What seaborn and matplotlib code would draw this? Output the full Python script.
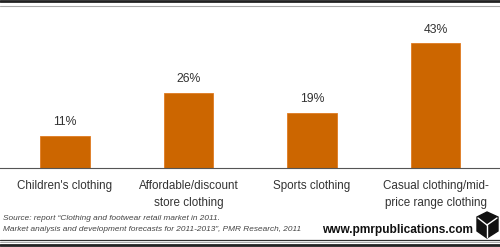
import matplotlib
matplotlib.use("Agg")
import matplotlib.pyplot as plt
import seaborn as sns
import pandas as pd
from matplotlib.lines import Line2D
from matplotlib.patches import Polygon

categories = ["Children's clothing", "Affordable/discount\nstore clothing",
              "Sports clothing", "Casual clothing/mid-\nprice range clothing"]
values = [11, 26, 19, 43]
value_labels = ["11%", "26%", "19%", "43%"]

sns.set_theme(style="white")
plt.rcParams['font.family'] = ['Liberation Sans', 'DejaVu Sans']

fig = plt.figure(figsize=(5.0, 2.47), dpi=100)
ax = fig.add_axes([0.0, 0.32, 1.0, 0.64])
df = pd.DataFrame({"cat": categories, "val": values})
sns.barplot(data=df, x="cat", y="val", color="#cc6600", width=0.4,
            saturation=1, edgecolor="#e07a20", linewidth=0.6, ax=ax)
ax.set_xlim(-0.526, 3.522)
ax.set_ylim(0, 54.5)
for s in ["top", "left", "right"]:
    ax.spines[s].set_visible(False)
ax.spines["bottom"].set_color("#555555")
ax.spines["bottom"].set_linewidth(0.8)
ax.set_yticks([])
ax.set_xlabel("")
ax.set_ylabel("")
ax.tick_params(axis="x", length=0, pad=9, labelsize=8.4, labelcolor="#333333")
ax.set_xticks(range(len(categories)))
ax.set_xticklabels(categories, linespacing=1.55)
for i, (v, lab) in enumerate(zip(values, value_labels)):
    ax.annotate(lab, (i, v), xytext=(0, 5.5), textcoords="offset points",
                ha="center", va="bottom", fontsize=8.8, color="#333333")

# source text
fig.text(3 / 500, 1 - 218 / 247, "Source: report \u201cClothing and footwear retail market in 2011.",
         fontsize=5.95, style="italic", color="#444444", va="center", ha="left")
fig.text(3 / 500, 1 - 229 / 247, "Market analysis and development forecasts for 2011-2013\u201d, PMR Research, 2011",
         fontsize=5.95, style="italic", color="#444444", va="center", ha="left")
fig.text(473 / 500, 1 - 230 / 247, "www.pmrpublications.com", fontsize=8.6,
         fontweight="bold", color="#111111", va="center", ha="right")

# logo (cube)
def P(x, y):
    return (x / 500, 1 - y / 247)
cube = Polygon([P(477, 217), P(487, 212), P(498, 217), P(498, 231), P(487, 238), P(477, 231)],
               closed=True, transform=fig.transFigure, color="#111111")
fig.patches.append(cube)
for (a, b) in [((487, 225), (478, 218)), ((487, 225), (497, 218)), ((487, 225), (487, 237))]:
    fig.lines.append(Line2D([a[0] / 500, b[0] / 500], [1 - a[1] / 247, 1 - b[1] / 247],
                            transform=fig.transFigure, color="white", lw=1.0))

# frame lines
def hline(y, lw, color):
    fig.lines.append(Line2D([0, 1], [1 - y / 247, 1 - y / 247], transform=fig.transFigure,
                            color=color, lw=lw))
hline(1.5, 2.0, "#222222")
hline(6.5, 0.8, "#aaaaaa")
hline(239.5, 0.9, "#333333")
hline(241.5, 0.7, "#aaaaaa")
hline(244.5, 2.0, "#222222")

fig.savefig("out.png", dpi=100)
